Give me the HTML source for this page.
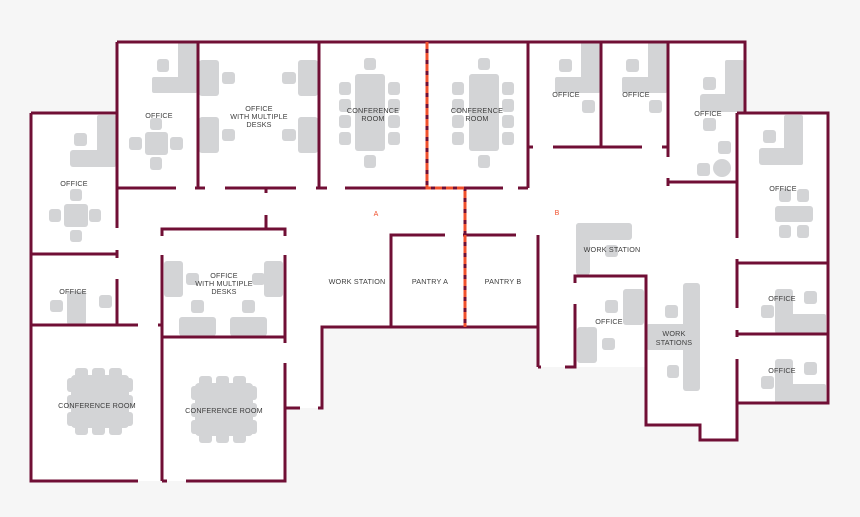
<!DOCTYPE html>
<html><head><meta charset="utf-8"><style>
html,body{margin:0;padding:0;background:#f6f6f6;}
svg{display:block;}
text{font-family:"Liberation Sans",sans-serif;font-size:7.2px;fill:#3d3d3d;text-anchor:middle;letter-spacing:0.2px;}
</style></head><body>
<svg width="860" height="517" viewBox="0 0 860 517" xmlns="http://www.w3.org/2000/svg">
<rect width="860" height="517" fill="#f6f6f6"/>
<polygon fill="#fff" points="31,113 117,113 117,42 745,42 745,113 828,113 828,403 737,403 737,440 700,440 700,425 646,425 646,367 540,367 540,327 322,327 322,408 285,408 285,481 31,481"/>
<defs>
<g id="blob" fill="#d3d4d6">
<rect x="8" y="0" width="13" height="14" rx="3"/><rect x="25" y="0" width="13" height="14" rx="3"/><rect x="42" y="0" width="13" height="14" rx="3"/>
<rect x="8" y="53" width="13" height="14" rx="3"/><rect x="25" y="53" width="13" height="14" rx="3"/><rect x="42" y="53" width="13" height="14" rx="3"/>
<rect x="4" y="7" width="58" height="53" rx="4"/>
<rect x="0" y="10" width="12" height="14" rx="3"/><rect x="0" y="27" width="12" height="14" rx="3"/><rect x="0" y="44" width="12" height="14" rx="3"/>
<rect x="54" y="10" width="12" height="14" rx="3"/><rect x="54" y="27" width="12" height="14" rx="3"/><rect x="54" y="44" width="12" height="14" rx="3"/>
</g>
</defs>
<g fill="#d3d4d6">
<!-- top office -->
<rect x="178" y="42" width="19" height="51" rx="2"/><rect x="152" y="77" width="45" height="16" rx="2"/><rect x="157" y="59" width="12" height="13" rx="3"/>
<rect x="145" y="132" width="23" height="23" rx="3"/><rect x="129" y="137" width="13" height="13" rx="3"/><rect x="170" y="137" width="13" height="13" rx="3"/><rect x="150" y="118" width="12" height="12" rx="3"/><rect x="150" y="157" width="12" height="13" rx="3"/>
<!-- multi desks top -->
<rect x="199" y="60" width="20" height="36" rx="3"/><rect x="199" y="117" width="20" height="36" rx="3"/><rect x="222" y="72" width="13" height="12" rx="3"/><rect x="222" y="129" width="13" height="12" rx="3"/>
<rect x="298" y="60" width="20" height="36" rx="3"/><rect x="298" y="117" width="20" height="36" rx="3"/><rect x="282" y="72" width="14" height="12" rx="3"/><rect x="282" y="129" width="14" height="12" rx="3"/>
<!-- conf A -->
<rect x="355" y="74" width="30" height="77" rx="3"/><rect x="364" y="58" width="12" height="12" rx="3"/><rect x="364" y="155" width="12" height="13" rx="3"/>
<rect x="339" y="82" width="12" height="13" rx="3"/><rect x="339" y="99" width="12" height="13" rx="3"/><rect x="339" y="115" width="12" height="13" rx="3"/><rect x="339" y="132" width="12" height="13" rx="3"/>
<rect x="388" y="82" width="12" height="13" rx="3"/><rect x="388" y="99" width="12" height="13" rx="3"/><rect x="388" y="115" width="12" height="13" rx="3"/><rect x="388" y="132" width="12" height="13" rx="3"/>
<!-- conf B -->
<rect x="469" y="74" width="30" height="77" rx="3"/><rect x="478" y="58" width="12" height="12" rx="3"/><rect x="478" y="155" width="12" height="13" rx="3"/>
<rect x="452" y="82" width="12" height="13" rx="3"/><rect x="452" y="99" width="12" height="13" rx="3"/><rect x="452" y="115" width="12" height="13" rx="3"/><rect x="452" y="132" width="12" height="13" rx="3"/>
<rect x="502" y="82" width="12" height="13" rx="3"/><rect x="502" y="99" width="12" height="13" rx="3"/><rect x="502" y="115" width="12" height="13" rx="3"/><rect x="502" y="132" width="12" height="13" rx="3"/>
<!-- offices top right -->
<rect x="581" y="42" width="19" height="51" rx="2"/><rect x="555" y="77" width="45" height="16" rx="2"/><rect x="559" y="59" width="13" height="13" rx="3"/><rect x="582" y="100" width="13" height="13" rx="3"/>
<rect x="648" y="42" width="19" height="51" rx="2"/><rect x="622" y="77" width="45" height="16" rx="2"/><rect x="626" y="59" width="13" height="13" rx="3"/><rect x="649" y="100" width="13" height="13" rx="3"/>
<rect x="725" y="60" width="19" height="52" rx="2"/><rect x="700" y="94" width="44" height="18" rx="3"/><rect x="703" y="77" width="13" height="13" rx="3"/><rect x="703" y="118" width="13" height="13" rx="3"/>
<circle cx="722" cy="168" r="9"/><rect x="718" y="141" width="13" height="13" rx="3"/><rect x="697" y="163" width="13" height="13" rx="3"/>
<!-- right office -->
<rect x="784" y="115" width="19" height="50" rx="2"/><rect x="759" y="148" width="44" height="17" rx="3"/><rect x="763" y="130" width="13" height="13" rx="3"/>
<rect x="775" y="206" width="38" height="16" rx="3"/><rect x="779" y="189" width="12" height="13" rx="3"/><rect x="797" y="189" width="12" height="13" rx="3"/><rect x="779" y="225" width="12" height="13" rx="3"/><rect x="797" y="225" width="12" height="13" rx="3"/>
<!-- work station -->
<rect x="576" y="223" width="56" height="17" rx="3"/><rect x="576" y="223" width="14" height="52" rx="3"/><rect x="605" y="245" width="13" height="12" rx="3"/>
<!-- office mid -->
<rect x="623" y="289" width="21" height="36" rx="3"/><rect x="577" y="327" width="20" height="36" rx="3"/><rect x="605" y="300" width="13" height="13" rx="3"/><rect x="602" y="338" width="13" height="12" rx="3"/>
<!-- work stations -->
<rect x="683" y="283" width="17" height="108" rx="3"/><rect x="647" y="324" width="53" height="26" rx="2"/><rect x="665" y="305" width="13" height="13" rx="3"/><rect x="667" y="365" width="12" height="13" rx="3"/>
<!-- right small offices -->
<rect x="775" y="289" width="18" height="44" rx="3"/><rect x="775" y="314" width="51" height="19" rx="2"/><rect x="804" y="291" width="13" height="13" rx="3"/><rect x="761" y="305" width="13" height="13" rx="3"/>
<rect x="775" y="359" width="18" height="44" rx="3"/><rect x="775" y="384" width="51" height="19" rx="2"/><rect x="804" y="362" width="13" height="13" rx="3"/><rect x="761" y="376" width="13" height="13" rx="3"/>
<!-- left office -->
<rect x="97" y="115" width="19" height="52" rx="2"/><rect x="70" y="150" width="46" height="17" rx="3"/><rect x="74" y="133" width="13" height="13" rx="3"/>
<rect x="64" y="204" width="24" height="23" rx="3"/><rect x="49" y="209" width="12" height="13" rx="3"/><rect x="89" y="209" width="12" height="13" rx="3"/><rect x="70" y="189" width="12" height="12" rx="3"/><rect x="70" y="230" width="12" height="12" rx="3"/>
<!-- left small office -->
<rect x="67" y="291" width="19" height="34" rx="3"/><rect x="50" y="300" width="13" height="12" rx="3"/><rect x="99" y="295" width="13" height="13" rx="3"/>
<!-- multi desk lower -->
<rect x="164" y="261" width="19" height="36" rx="3"/><rect x="264" y="261" width="19" height="36" rx="3"/><rect x="186" y="273" width="13" height="12" rx="3"/><rect x="252" y="273" width="13" height="12" rx="3"/>
<rect x="179" y="317" width="37" height="19" rx="3"/><rect x="230" y="317" width="37" height="19" rx="3"/><rect x="191" y="300" width="13" height="13" rx="3"/><rect x="242" y="300" width="13" height="13" rx="3"/>
</g>
<use href="#blob" x="67" y="368"/>
<use href="#blob" x="191" y="376"/>
<!-- walls -->
<g stroke="#700f35" stroke-width="3" fill="none" stroke-linecap="butt">
<path d="M117,42H745V113"/>
<path d="M737,113H828V403H737"/>
<path d="M737,113V238M737,259V308M737,330V337M737,359V440H700V425H646V276H575V283M575,304V367H565"/>
<path d="M737,263H828M737,334H828"/>
<path d="M117,42V228M117,250V258M117,279V326"/>
<path d="M31,113H117M31,254H117M31,113V481H138M162,481H167M186,481H285V363M285,343V255M285,236V229H162V236M162,255V481"/>
<path d="M31,325H138M158,325H162M162,337H285"/>
<path d="M266,215V229M266,188V193"/>
<path d="M285,408H300M318,408H322V327H538M538,367H541"/>
<path d="M198,42V188M319,42V188M528,42V188M518,188H528"/>
<path d="M117,188H176M195,188H205M225,188H296M316,188H327M345,188H427M465,188H503"/>
<path d="M528,147H533M553,147H642M662,147H668M601,42V147M668,42V157M668,178V186M668,182H737"/>
<path d="M391,327V235H445M463,235H516M538,235V367"/>
<path d="M427,42V188H465V327"/>
</g>
<g stroke="#f0512d" stroke-width="3" fill="none" stroke-dasharray="7,4">
<path d="M427,42V188H465V327"/>
</g>
<text x="376" y="216" style="fill:#f0512d;font-size:7px">A</text>
<text x="557" y="215" style="fill:#f0512d;font-size:7px">B</text>
<!-- labels -->
<text x="159" y="118">OFFICE</text>
<text x="259" y="111">OFFICE</text><text x="259" y="119">WITH MULTIPLE</text><text x="259" y="127">DESKS</text>
<text x="373" y="113">CONFERENCE</text><text x="373" y="121">ROOM</text>
<text x="477" y="113">CONFERENCE</text><text x="477" y="121">ROOM</text>
<text x="566" y="97">OFFICE</text>
<text x="636" y="97">OFFICE</text>
<text x="708" y="116">OFFICE</text>
<text x="783" y="191">OFFICE</text>
<text x="74" y="186">OFFICE</text>
<text x="73" y="294">OFFICE</text>
<text x="224" y="278">OFFICE</text><text x="224" y="286">WITH MULTIPLE</text><text x="224" y="294">DESKS</text>
<text x="357" y="284">WORK STATION</text>
<text x="430" y="284">PANTRY A</text>
<text x="503" y="284">PANTRY B</text>
<text x="612" y="252">WORK STATION</text>
<text x="609" y="324">OFFICE</text>
<text x="674" y="336">WORK</text><text x="674" y="345">STATIONS</text>
<text x="782" y="301">OFFICE</text>
<text x="782" y="373">OFFICE</text>
<text x="97" y="408">CONFERENCE ROOM</text>
<text x="224" y="413">CONFERENCE ROOM</text>
</svg>
</body></html>
